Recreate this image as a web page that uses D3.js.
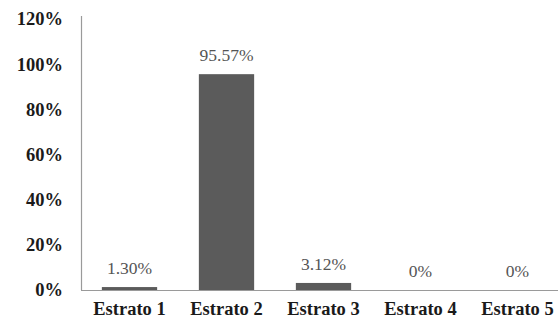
<!DOCTYPE html>
<html>
<head>
<meta charset="utf-8">
<script src="https://cdn.jsdelivr.net/npm/d3@7"></script>
<style>
  html, body { margin: 0; padding: 0; background: #fff; }
  svg { display: block; }
</style>
</head>
<body>
<svg id="chart" width="558" height="326"></svg>
<script>
// Share of the sample in each stratum
const categories = ["Estrato 1", "Estrato 2", "Estrato 3", "Estrato 4", "Estrato 5"];
const values = [1.30, 95.57, 3.12, 0, 0];
const valueLabels = ["1.30%", "95.57%", "3.12%", "0%", "0%"];
const yTicks = [0, 20, 40, 60, 80, 100, 120];

const svg = d3.select("#chart");
const serif = "'Liberation Serif', 'Times New Roman', serif";

const x = d3.scaleBand()
  .domain(categories)
  .range([81, 566])
  .paddingInner(0.43)
  .paddingOuter(0.215);

const y = d3.scaleLinear()
  .domain([0, 120])
  .range([290, 19]);

// Value axis: labels only, with a plain vertical rule
const yAxis = svg.append("g")
  .attr("transform", "translate(81,0)")
  .call(d3.axisLeft(y).tickValues(yTicks).tickSize(0).tickPadding(18)
    .tickFormat(d => d + "%"));
yAxis.select(".domain").remove();
yAxis.selectAll("text")
  .attr("font-family", serif)
  .attr("font-weight", "bold")
  .attr("font-size", "18.5px")
  .attr("fill", "#1a1a1a");

svg.append("line")
  .attr("x1", 81.5).attr("x2", 81.5)
  .attr("y1", 16).attr("y2", 290)
  .attr("stroke", "#9a9a9a").attr("stroke-width", 1.2);

// Bars
svg.selectAll("rect.bar")
  .data(values)
  .join("rect")
  .attr("class", "bar")
  .attr("x", (d, i) => x(categories[i]))
  .attr("width", x.bandwidth())
  .attr("y", d => y(d))
  .attr("height", d => y(0) - y(d))
  .attr("fill", "#5b5b5b");

// Category axis
const xAxis = svg.append("g")
  .attr("transform", "translate(0,290)")
  .call(d3.axisBottom(x).tickSize(0).tickPadding(12));
xAxis.select(".domain").remove();
xAxis.selectAll("text")
  .attr("font-family", serif)
  .attr("font-weight", "bold")
  .attr("font-size", "18.5px")
  .attr("fill", "#1a1a1a");

svg.append("line")
  .attr("x1", 81).attr("x2", 558)
  .attr("y1", 290.5).attr("y2", 290.5)
  .attr("stroke", "#9a9a9a").attr("stroke-width", 1.2);

// Value labels above each bar
svg.selectAll("text.val")
  .data(values)
  .join("text")
  .attr("class", "val")
  .attr("x", (d, i) => x(categories[i]) + x.bandwidth() / 2)
  .attr("y", d => y(d) - 13)
  .attr("text-anchor", "middle")
  .attr("font-family", serif)
  .attr("font-size", "17.5px")
  .attr("fill", "#555")
  .text((d, i) => valueLabels[i]);
</script>
</body>
</html>
